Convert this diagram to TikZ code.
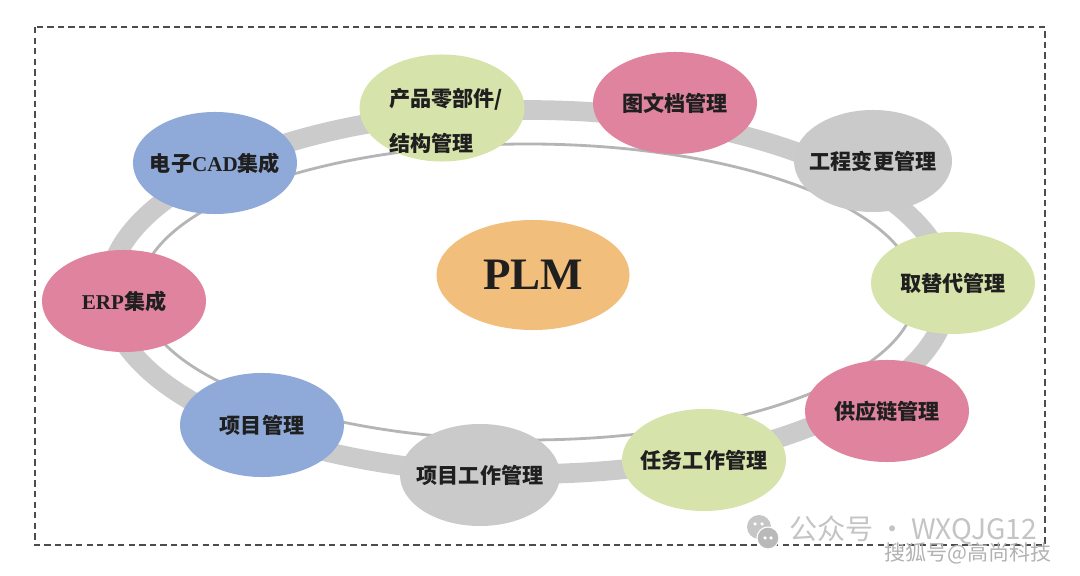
\documentclass[tikz,border=0pt]{standalone}
\usepackage{fontspec}
\setmainfont{Liberation Serif}
\newfontfamily\cjk{Noto Sans CJK SC}
\usetikzlibrary{shapes.geometric, calc}

\definecolor{bubblue}{HTML}{8FAAD9}
\definecolor{bubpink}{HTML}{E0839F}
\definecolor{bubgreen}{HTML}{D6E3AA}
\definecolor{bubgray}{HTML}{CACACA}
\definecolor{bubplm}{HTML}{F1BE7C}
\definecolor{ringgray}{HTML}{CBCBCB}
\definecolor{ringline}{HTML}{B5B5B5}
\definecolor{wmgray}{HTML}{C4C4C4}

\begin{document}
\begin{tikzpicture}[
    x=0.025cm, y=-0.025cm, % 1 unit = 1 px of the layout
    every node/.style={align=center},
    bubble/.style={ellipse, inner sep=-25pt, minimum width=4.1cm, minimum height=2.55cm,
        text=black!88, font=\cjk\bfseries\fontsize{15}{18}\selectfont},
    bluebub/.style={bubble, fill=bubblue},
    pinkbub/.style={bubble, fill=bubpink},
    greenbub/.style={bubble, fill=bubgreen},
    graybub/.style={bubble, fill=bubgray},
    band/.style={draw=ringgray, line width=14pt},
    thinring/.style={draw=ringline, line width=2pt},
    frame/.style={draw=black!70, line width=1.1pt, dash pattern=on 4.5pt off 3pt},
    wmark/.style={font=\cjk\fontsize{20}{20}\selectfont, text=wmgray, inner sep=0pt}
]
\useasboundingbox (0,0) rectangle (1080,576);

% ring behind the bubbles
\coordinate (c) at (528,292);
\draw[band] (c) ellipse [x radius=420, y radius=182];
\draw[thinring] (c) ellipse [x radius=388, y radius=148];

% centre
\node[bubble, fill=bubplm, minimum width=4.825cm, minimum height=2.75cm,
      font=\rmfamily\bfseries\fontsize{32}{36}\selectfont] (plm) at (533,275) {PLM};

% bubbles round the ring
\node[bluebub]  (cad)    at (215,163) {电子{\rmfamily CAD}集成};
\node[greenbub, minimum width=4.125cm, minimum height=2.675cm] (parts) at (442,108) {};
\node[font=\cjk\bfseries\fontsize{15}{32}\selectfont, text=black!88, align=left] (partstxt)
    at (446,121) {产品零部件/\\结构管理};
\node[pinkbub]  (docs)   at (675,103) {图文档管理};
\node[graybub, minimum width=3.95cm] (change) at (873,161) {工程变更管理};
\node[greenbub] (subst)  at (953,283) {取替代管理};
\node[pinkbub]  (supply) at (887,411) {供应链管理};
\node[greenbub] (task)   at (704,460) {任务工作管理};
\node[graybub, minimum width=4cm] (work) at (480,475) {项目工作管理};
\node[bluebub, minimum height=2.6cm] (proj) at (262,425) {项目管理};
\node[pinkbub]  (erp)    at (124,301) {{\rmfamily ERP}集成};

% dashed frame
\draw[frame] (35,27) rectangle (1045,545);

% watermark
\node[circle, fill=gray!45, minimum size=0.6cm, inner sep=0pt] (wcbig) at (759,527) {};
\node[circle, fill=gray!55, draw=white, line width=0.8pt, minimum size=0.55cm, inner sep=0pt] (wcsmall) at (768,538) {};
\foreach \i/\base/\dx/\dy in {1/wcbig/-4/-3, 2/wcbig/3/-3, 3/wcsmall/-3/0, 4/wcsmall/3/0} {
    \node[circle, fill=white, minimum size=2.5pt, inner sep=0pt] (wceye\i)
        at ($(\base)+(\dx,\dy)$) {};
}
\node[wmark, anchor=west] (wmtext) at (789,530) {公众号\,·\,WXQJG12};
\node[font=\cjk\fontsize{15}{15}\selectfont, text=gray!60, anchor=east, inner sep=0pt] (wmsohu)
    at (1052,553) {搜狐号@高尚科技};

\end{tikzpicture}
\end{document}
